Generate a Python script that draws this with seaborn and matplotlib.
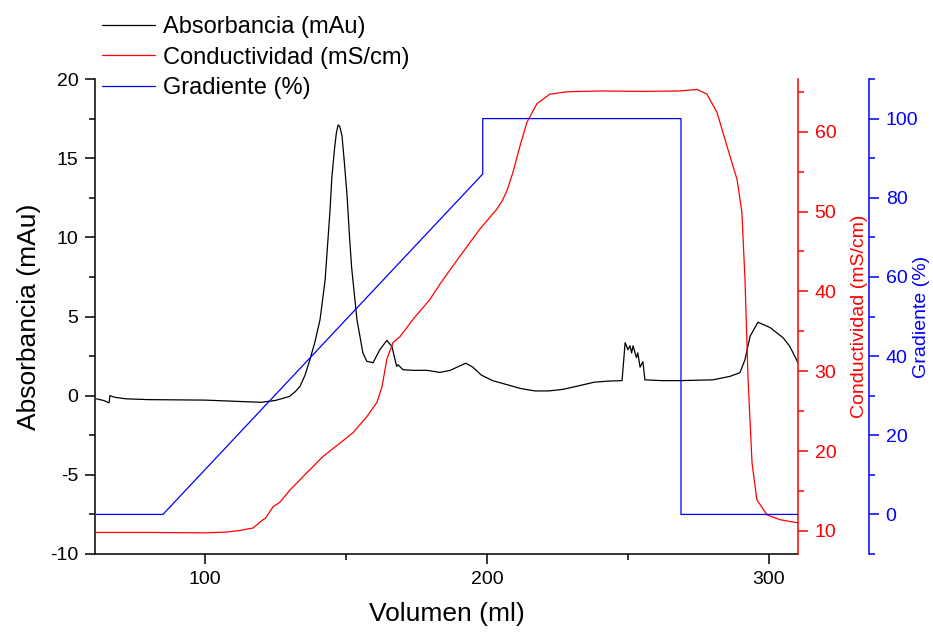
import numpy as np
import pandas as pd
import seaborn as sns
import matplotlib
matplotlib.use("Agg")
import matplotlib.pyplot as plt
import matplotlib.ticker as ticker

# Absorbancia (mAu)
abs_x = [61.5, 64, 66, 66.3, 68, 72, 80, 100, 110, 120, 125, 128, 130, 132, 133.7, 135.5,
         137.2, 139, 140.8, 142.6, 144.3, 145, 146, 146.6, 147.2, 147.8, 148.6, 149.4, 150.4,
         151.2, 152, 153.9, 156, 157.4, 159.6, 162, 164.5, 166.3, 167.4, 168, 168.5, 170.2,
         173.8, 178.7, 183.3, 187, 190, 192.5, 195, 198, 202, 207, 212, 217, 222, 227, 232,
         238, 243, 247.9, 249, 250, 250.7, 251.3, 251.8, 253, 253.5, 254.3, 255.3, 256, 262,
         268.4, 280.1, 286.2, 289.7, 291.5, 293.3, 296.1, 300.4, 305, 307.4, 310.3]
abs_y = [-0.2, -0.3, -0.45, 0.0, -0.1, -0.2, -0.25, -0.28, -0.35, -0.42, -0.3, -0.15, -0.04,
         0.25, 0.59, 1.3, 2.27, 3.4, 4.8, 7.3, 11.6, 13.8, 15.7, 16.6, 17.1, 17.0, 16.4, 14.8,
         12.6, 10.2, 8.1, 4.8, 2.7, 2.17, 2.08, 2.9, 3.49, 3.11, 2.27, 1.85, 1.95, 1.64, 1.6,
         1.6, 1.47, 1.6, 1.85, 2.05, 1.8, 1.3, 0.95, 0.7, 0.45, 0.3, 0.3, 0.4, 0.6, 0.85, 0.92,
         0.95, 3.35, 2.9, 3.15, 2.7, 3.15, 2.4, 2.7, 1.8, 2.15, 1.0, 0.95, 0.95, 1.0, 1.22,
         1.45, 2.27, 3.75, 4.64, 4.3, 3.66, 3.11, 2.08]

# Conductividad (mS/cm)
cond_x = [61.5, 80, 100, 107.8, 112.4, 117, 120.6, 121.5, 124.1, 126.6, 130.1, 136.2, 141.8,
          147.9, 152.5, 157.4, 161, 162.8, 164.5, 166.7, 169.1, 173.8, 179.8, 183.3, 190.4,
          197.5, 203.5, 205.5, 207.1, 209.2, 211.7, 214.2, 217.7, 222.3, 228.4, 240, 255, 268.4,
          274.5, 278, 281.6, 285.1, 288.7, 290.4, 291.5, 292.6, 294, 295.7, 299.3, 303.9, 310.3]
cond_y = [9.8, 9.8, 9.75, 9.85, 10.05, 10.35, 11.4, 11.6, 13.0, 13.6, 15.1, 17.3, 19.3, 21.0,
          22.3, 24.3, 26.1, 28.1, 31.5, 33.6, 34.3, 36.5, 39.0, 40.9, 44.4, 47.8, 50.3, 51.4,
          52.6, 54.9, 58.2, 61.2, 63.5, 64.7, 65.0, 65.1, 65.05, 65.1, 65.3, 64.7, 62.4, 58.2,
          54.0, 49.9, 41.5, 28.9, 18.5, 13.9, 12.0, 11.4, 11.0]

# Gradiente (%)
grad_x = [61.5, 85.1, 198.5, 198.5, 268.8, 268.8, 310.3]
grad_y = [0, 0, 86, 100, 100, 0, 0]

sns.set_theme(style="ticks")
plt.rcParams['font.family'] = ['Liberation Sans', 'DejaVu Sans']
plt.rcParams['axes.linewidth'] = 1.1
plt.rcParams['axes.unicode_minus'] = False
for k in ('text.color', 'axes.labelcolor', 'xtick.color', 'ytick.color', 'axes.edgecolor'):
    plt.rcParams[k] = 'black'

fig = plt.figure(figsize=(9.33, 6.37), dpi=100)
ax = fig.add_axes([95 / 933, 1 - 554 / 637, 703 / 933, 475 / 637])
ax2 = ax.twinx()
ax3 = ax.twinx()

df_abs = pd.DataFrame({"x": abs_x, "y": abs_y})
df_cond = pd.DataFrame({"x": cond_x, "y": cond_y})
df_grad = pd.DataFrame({"x": grad_x, "y": grad_y})

sns.lineplot(data=df_abs, x="x", y="y", ax=ax, color="black", lw=0.9,
             sort=False, estimator=None, label="Absorbancia (mAu)")
sns.lineplot(data=df_cond, x="x", y="y", ax=ax2, color="red", lw=0.9,
             sort=False, estimator=None, label="Conductividad (mS/cm)")
sns.lineplot(data=df_grad, x="x", y="y", ax=ax3, color="blue", lw=0.9,
             sort=False, estimator=None, label="Gradiente (%)")

handles, labels = [], []
for a in (ax, ax2, ax3):
    h, l = a.get_legend_handles_labels()
    handles += h
    labels += l
    if a.get_legend() is not None:
        a.get_legend().remove()

ax.set_xlim(61, 310.3)
ax.set_ylim(-10, 20)
ax2.set_ylim(7.1, 66.6)
ax3.set_ylim(-10, 110)

# left axis
ax.spines['top'].set_visible(False)
ax.spines['right'].set_visible(False)
ax.xaxis.set_major_locator(ticker.MultipleLocator(100))
ax.xaxis.set_minor_locator(ticker.MultipleLocator(50))
ax.yaxis.set_major_locator(ticker.MultipleLocator(5))
ax.yaxis.set_minor_locator(ticker.MultipleLocator(2.5))
ax.tick_params(which='major', length=7, width=1.1, labelsize=14, pad=5)
ax.tick_params(which='minor', length=4, width=1.1)
ax.set_xlabel("Volumen (ml)", fontsize=19)
ax.set_ylabel("Absorbancia (mAu)", fontsize=19)
ax.xaxis.set_label_coords(0.5, -0.102)
ax.yaxis.set_label_coords(-0.077, 0.5)

# red axis
for s in ('top', 'left', 'bottom'):
    ax2.spines[s].set_visible(False)
ax2.spines['right'].set_color('red')
ax2.yaxis.set_major_locator(ticker.MultipleLocator(10))
ax2.yaxis.set_minor_locator(ticker.MultipleLocator(5))
ax2.tick_params(axis='y', which='major', colors='red', length=7, width=1.1, labelsize=14, pad=5)
ax2.tick_params(axis='y', which='minor', colors='red', length=4, width=1.1)
ax2.set_ylabel("Conductividad (mS/cm)", fontsize=14, color='red')
ax2.yaxis.set_label_coords(1.075, 0.5)

# blue axis
for s in ('top', 'left', 'bottom'):
    ax3.spines[s].set_visible(False)
ax3.spines['right'].set_position(('axes', 1.101))
ax3.spines['right'].set_color('blue')
ax3.yaxis.set_major_locator(ticker.MultipleLocator(20))
ax3.yaxis.set_minor_locator(ticker.MultipleLocator(10))
ax3.tick_params(axis='y', which='major', colors='blue', length=7, width=1.1, labelsize=14, pad=5)
ax3.tick_params(axis='y', which='minor', colors='blue', length=4, width=1.1)
ax3.set_ylabel("Gradiente (%)", fontsize=14, color='blue')
ax3.yaxis.set_label_coords(1.164, 0.5)

fig.legend(handles, labels, loc='upper left', bbox_to_anchor=(102 / 933, 1 - 16 / 637),
           frameon=False, fontsize=17, handlelength=2.25, handletextpad=0.35,
           labelspacing=0.37, borderpad=0, borderaxespad=0)

fig.savefig("out.png", dpi=100)
